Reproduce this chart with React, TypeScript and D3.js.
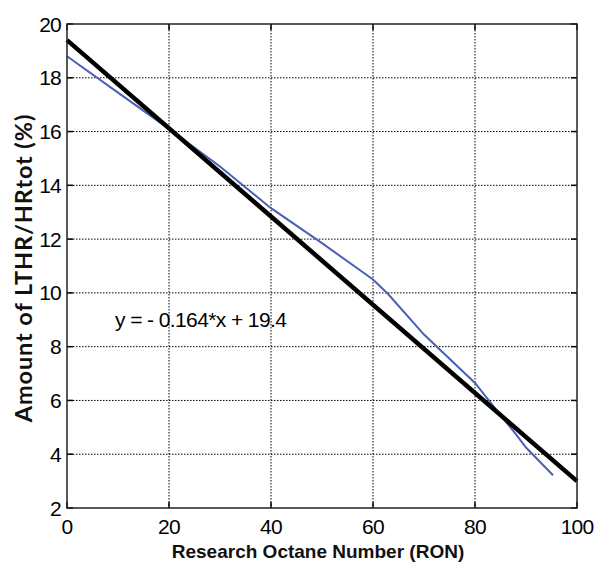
import React from "react";
import * as d3 from "d3";

const xTicks = [0, 20, 40, 60, 80, 100];
const yTicks = [2, 4, 6, 8, 10, 12, 14, 16, 18, 20];
const blueX = [0, 10, 20, 30, 40, 50, 60, 63, 70, 80, 85, 88, 90, 95.3];
const blueY = [18.8, 17.45, 16.1, 14.7, 13.15, 11.85, 10.5, 9.95, 8.45, 6.65, 5.45, 4.75, 4.25, 3.22];
const fitSlope = -0.164;
const fitIntercept = 19.4;
const fitX = [0, 100];
const equationText = "y = - 0.164*x + 19.4";
const xLabel = "Research Octane Number (RON)";
const yLabel = "Amount of LTHR/HRtot (%)";

export default function App() {
  const W = 596, H = 565;
  const left = 67, right = 577, top = 24, bottom = 508;
  const x = d3.scaleLinear().domain([0, 100]).range([left, right]);
  const y = d3.scaleLinear().domain([2, 20]).range([bottom, top]);
  const line = d3.line<[number, number]>().x(d => x(d[0])).y(d => y(d[1]));
  const blue: [number, number][] = blueX.map((v, i) => [v, blueY[i]]);
  const fit: [number, number][] = fitX.map(v => [v, fitSlope * v + fitIntercept]);
  const font = "'Liberation Sans', Arial, sans-serif";
  return (
    <svg width={W} height={H} style={{ position: "absolute", left: 0, top: 0, background: "#fff" }}>
      <rect x={0} y={0} width={W} height={H} fill="#fff" />
      {xTicks.slice(1, -1).map(t => (
        <line key={"gx" + t} x1={x(t)} x2={x(t)} y1={top} y2={bottom} stroke="#000" strokeWidth={1} strokeDasharray="1.5,1.5" />
      ))}
      {yTicks.slice(1, -1).map(t => (
        <line key={"gy" + t} x1={left} x2={right} y1={y(t)} y2={y(t)} stroke="#000" strokeWidth={1} strokeDasharray="1.5,1.5" />
      ))}
      {xTicks.map(t => (
        <g key={"tx" + t}>
          <line x1={x(t)} x2={x(t)} y1={bottom} y2={bottom - 6} stroke="#000" strokeWidth={1.5} />
          <line x1={x(t)} x2={x(t)} y1={top} y2={top + 6} stroke="#000" strokeWidth={1.5} />
        </g>
      ))}
      {yTicks.map(t => (
        <g key={"ty" + t}>
          <line x1={left} x2={left + 6} y1={y(t)} y2={y(t)} stroke="#000" strokeWidth={1.5} />
          <line x1={right} x2={right - 6} y1={y(t)} y2={y(t)} stroke="#000" strokeWidth={1.5} />
        </g>
      ))}
      <text x={115} y={327} fontFamily={font} fontSize={21} fill="#000" letterSpacing={-0.6}>{equationText}</text>
      <path d={line(blue) || ""} fill="none" stroke="#4a5fb8" strokeWidth={2} />
      <path d={line(fit) || ""} fill="none" stroke="#000" strokeWidth={4.5} />
      <rect x={left} y={top} width={right - left} height={bottom - top} fill="none" stroke="#222" strokeWidth={1.5} />
      {xTicks.map(t => (
        <text key={"lx" + t} x={x(t)} y={534} textAnchor="middle" fontFamily={font} fontSize={21} letterSpacing={-0.8} fill="#000">{t}</text>
      ))}
      {yTicks.map(t => (
        <text key={"ly" + t} x={61} y={y(t) + 7.5} textAnchor="end" fontFamily={font} fontSize={21} letterSpacing={-0.8} fill="#000">{t}</text>
      ))}
      <text x={318} y={558} textAnchor="middle" fontFamily={font} fontSize={19} fontWeight="bold" fill="#111">{xLabel}</text>
      <text transform={`translate(32,268) rotate(-90)`} textAnchor="middle" fontFamily="Lato, 'Open Sans', sans-serif" fontSize={23.5} fontWeight="bold" letterSpacing={0.9} fill="#111">{yLabel}</text>
    </svg>
  );
}
